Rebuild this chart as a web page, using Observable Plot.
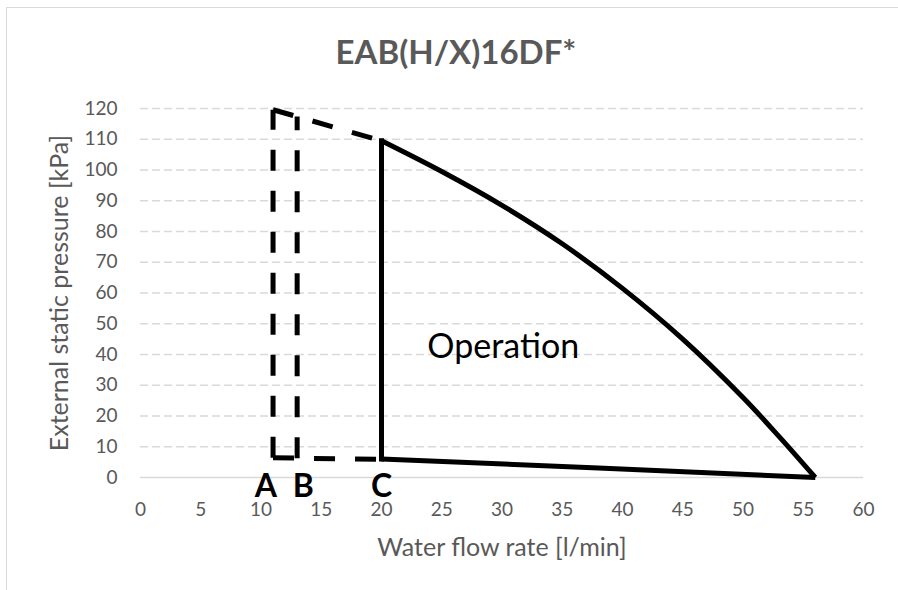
<!DOCTYPE html>
<html>
<head>
<meta charset="utf-8">
<script src="https://cdn.jsdelivr.net/npm/d3@7"></script>
<script src="https://cdn.jsdelivr.net/npm/@observablehq/plot@0.6"></script>
<style>
  html, body { margin: 0; padding: 0; background: #fff; }
  #wrap { position: relative; width: 898px; height: 590px; overflow: hidden; font-family: Lato, "Open Sans", sans-serif; }
  #frame { position: absolute; left: 6px; top: 7px; width: 1000px; height: 1000px; border: 1.5px solid #d9d9d9; box-sizing: border-box; }
  #chart { position: absolute; left: 0; top: 0; }
  .t { position: absolute; white-space: nowrap; color: #595959; }
  #title { left: 456px; top: 35px; font-size: 33px; line-height: 33px; font-weight: bold; transform: translateX(-50%); }
  #xlabel { left: 502px; top: 533.5px; font-size: 25px; line-height: 25px; transform: translateX(-50%); }
  #ylabel { left: 57.5px; top: 292.5px; font-size: 25px; line-height: 25px; transform: translate(-50%, -50%) rotate(-90deg); }
</style>
</head>
<body>
<div id="wrap">
  <div id="frame"></div>
  <div id="chart"></div>
  <div id="title" class="t"></div>
  <div id="xlabel" class="t"></div>
  <div id="ylabel" class="t"></div>
</div>
<script>
// ---- texts ----
const chartTitle = "EAB(H/X)16DF*";
const xAxisTitle = "Water flow rate [l/min]";
const yAxisTitle = "External static pressure [kPa]";

// ---- ticks ----
const xTicks = [0, 5, 10, 15, 20, 25, 30, 35, 40, 45, 50, 55, 60];
const yTicks = [0, 10, 20, 30, 40, 50, 60, 70, 80, 90, 100, 110, 120];

// ---- pump curve (solid, smooth) ----
const pumpFlow     = [20, 25, 30, 35, 40, 45, 50, 53, 56];
const pumpPressure = [109.5, 99.5, 88.5, 76, 61.5, 45, 26, 13.3, 0];

// ---- lower boundary (solid) ----
const lowerFlow     = [20, 38, 56];
const lowerPressure = [6, 3.1, 0];

// ---- limit C (solid vertical) ----
const limitCFlow     = [20, 20];
const limitCPressure = [6, 109.5];

// ---- dashed extensions (A, B limits and extended curve) ----
const dashedSegment  = ["A", "A", "B", "B", "top", "top", "bottom", "bottom"];
const dashedFlow     = [11, 11, 13, 13, 11, 20, 11, 20];
const dashedPressure = [6.4, 119.6, 6.3, 117.4, 119.6, 109.5, 6.4, 5.9];

// ---- point labels ----
const pointLabels   = ["A", "B", "C"];
const pointFlow     = [10.4, 13.5, 20.0];
const pointPressure = [-2.9, -2.9, -2.9];

// ---- region label ----
const regionLabel    = ["Operation"];
const regionFlow     = [30.1];
const regionPressure = [42.3];

const toRows = (xs, ys) => xs.map((x, i) => ({x, y: ys[i]}));
const pump = toRows(pumpFlow, pumpPressure);
const lower = toRows(lowerFlow, lowerPressure);
const limitC = toRows(limitCFlow, limitCPressure);
const dashed = dashedFlow.map((x, i) => ({x, y: dashedPressure[i], z: dashedSegment[i]}));
const pts = pointLabels.map((t, i) => ({t, x: pointFlow[i], y: pointPressure[i]}));
const region = regionLabel.map((t, i) => ({t, x: regionFlow[i], y: regionPressure[i]}));

document.getElementById("title").textContent = chartTitle;
document.getElementById("xlabel").textContent = xAxisTitle;
document.getElementById("ylabel").textContent = yAxisTitle;

const lineStyle = {x: "x", y: "y", stroke: "black", strokeWidth: 5};

const plot = Plot.plot({
  width: 898,
  height: 590,
  marginLeft: 140,
  marginRight: 35,
  marginTop: 108,
  marginBottom: 113,
  style: {fontFamily: "Lato, 'Open Sans', sans-serif", fontSize: "19px", color: "#595959", background: "transparent", overflow: "visible"},
  x: {domain: [0, 60]},
  y: {domain: [0, 120]},
  marks: [
    Plot.gridY(yTicks.filter(d => d > 0), {stroke: "#d9d9d9", strokeOpacity: 1, strokeWidth: 1.3, strokeDasharray: "8,4"}),
    Plot.ruleY([0], {stroke: "#d9d9d9", strokeWidth: 1.5}),
    Plot.axisX(xTicks, {tickSize: 0, tickPadding: 25, tickFormat: d => String(d), label: null}),
    Plot.axisY(yTicks, {tickSize: 0, tickPadding: 23, tickFormat: d => String(d), label: null}),
    Plot.line(dashed, {...lineStyle, z: "z", strokeDasharray: "21,20", strokeLinecap: "butt", strokeLinejoin: "miter"}),
    Plot.line(limitC, {...lineStyle, strokeLinecap: "square"}),
    Plot.line(lower, {...lineStyle, strokeLinecap: "butt"}),
    Plot.line(pump, {...lineStyle, curve: "catmull-rom", strokeLinecap: "butt"}),
    Plot.text(pts, {x: "x", y: "y", text: "t", fill: "black", fontSize: 32, fontWeight: "bold", textAnchor: "middle", lineAnchor: "middle"}),
    Plot.text(region, {x: "x", y: "y", text: "t", fill: "black", fontSize: 34, textAnchor: "middle", lineAnchor: "middle"})
  ]
});
document.getElementById("chart").appendChild(plot);
</script>
</body>
</html>
